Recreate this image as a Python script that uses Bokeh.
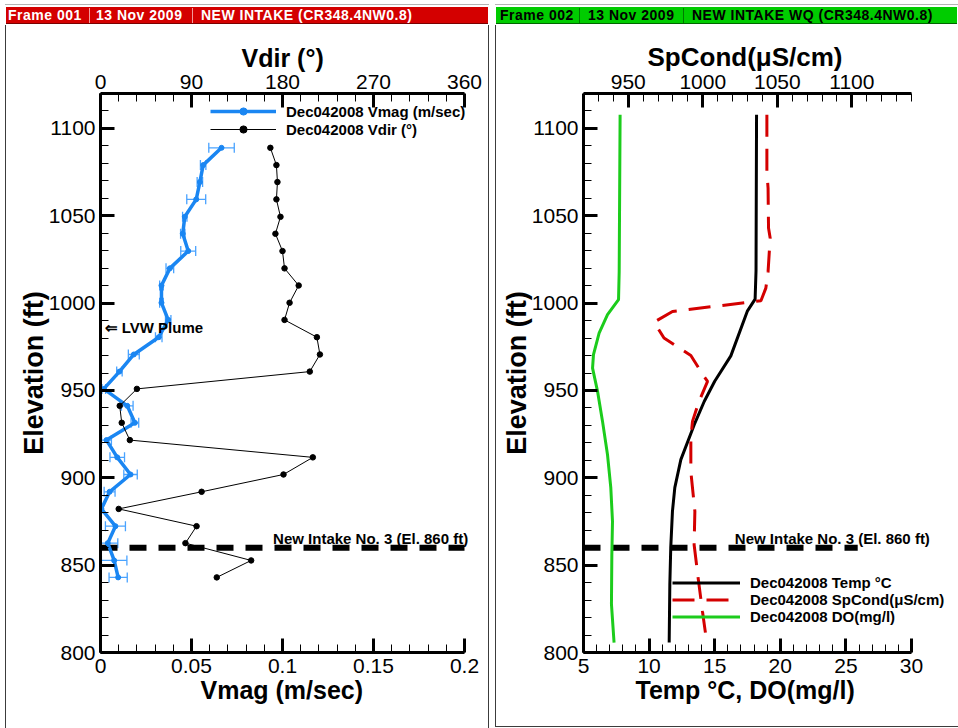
from bokeh.plotting import figure
from bokeh.models import (ColumnDataSource, LinearAxis, Range1d, SingleIntervalTicker, FixedTicker,
                          Whisker, TeeHead, Legend, LegendItem, Label, Div, Spacer, Title)
from bokeh.layouts import row, column
from bokeh.embed import file_html
from bokeh.resources import INLINE

# ---------------- data ----------------
# Frame 001 : velocity profile (3 m bins)
elev = [1088.9, 1079.0, 1069.3, 1059.4, 1049.4, 1039.7, 1029.8, 1019.9, 1010.1, 1000.2,
        990.4, 980.5, 970.6, 960.8, 950.9, 941.2, 931.5, 921.6, 911.7, 901.9,
        892.0, 882.2, 872.3, 862.6, 852.7, 843.0]
vdir = [168, 174, 175, 174, 178, 173, 180, 182, 196, 187,
        182, 214, 217, 207, 36, 19, 21, 29, 210, 181,
        100, 18, 95, 84, 149, 115]
vmag = [0.0665, 0.0564, 0.0546, 0.0526, 0.0463, 0.0452, 0.0482, 0.0381, 0.0335, 0.0335,
        0.0372, 0.0320, 0.0183, 0.0104, 0.0018, 0.0147, 0.0189, 0.0033, 0.0092, 0.0165,
        0.0050, 0.0005, 0.0082, 0.0040, 0.0075, 0.0097]
vmag_err = [0.0070, 0.0015, 0.0015, 0.0052, 0.0012, 0.0012, 0.0041, 0.0021, 0.0010, 0.0010,
            0.0015, 0.0018, 0.0030, 0.0015, 0.0010, 0.0032, 0.0021, 0.0027, 0.0040, 0.0037,
            0.0030, 0.0010, 0.0055, 0.0055, 0.0070, 0.0050]

# Frame 002 : water quality profile
temp_elev = [1107.8, 1018.5, 1002.3, 995.6, 969.8, 955.3, 943.7, 930.4, 910.4, 894.4,
             880.8, 860.0, 839.0, 805.7]
temp_val = [18.19, 18.15, 18.08, 17.50, 16.23, 15.00, 14.20, 13.44, 12.42, 11.96,
            11.78, 11.65, 11.58, 11.53]
do_elev = [1107.8, 1018.0, 1002.0, 993.4, 982.8, 970.5, 962.8, 949.5, 932.3, 913.2,
           894.4, 875.0, 856.0, 827.7, 805.7]
do_val = [7.79, 7.72, 7.67, 6.83, 6.19, 5.76, 5.69, 6.07, 6.45, 6.83,
          7.08, 7.21, 7.16, 7.13, 7.33]
sp_elev = [1107.8, 1075.4, 1065.8, 1043.0, 1037.3, 1018.0, 1008.6, 1001.4, 995.2, 989.1,
           980.0, 970.0, 958.0, 955.2, 943.8, 932.3, 922.7, 903.6, 880.8, 861.7,
           842.6, 823.5, 805.7]
sp_val = [1043.0, 1043.0, 1043.8, 1044.1, 1045.2, 1043.8, 1042.3, 1039.0, 979.7, 967.4,
          974.0, 992.0, 1000.9, 1003.2, 997.5, 993.1, 992.0, 992.0, 994.7, 994.2,
          996.9, 999.8, 1002.7]

intake_elev = 860
intake_left_x = [0, 0.2]
intake_right_x = [5, 25.9]
intake_text = "New Intake No. 3 (El. 860 ft)"
plume_text = "\u21d0 LVW Plume"
plume_pos = (0.0022, 986.3)
intake_label_left = (0.202, 865.3)
intake_label_right = (31.4, 865.3)

vmag_ticks = [0, 0.05, 0.1, 0.15, 0.2]
vmag_labels = ["0", "0.05", "0.1", "0.15", "0.2"]
vmag_minor = [i / 100 for i in range(0, 21)]
vdir_ticks = [0, 90, 180, 270, 360]
vdir_minor = [i * 18 for i in range(0, 21)]

header_left = ["Frame 001", "13 Nov 2009", "NEW INTAKE (CR348.4NW0.8)"]
header_right = ["Frame 002", "13 Nov 2009", "NEW INTAKE WQ (CR348.4NW0.8)"]

# axis extents (data) and the pixel length of the drawn axes
vmag_lim = (0, 0.2)
vdir_lim = (0, 360)
temp_lim = (5, 30)
sp_lim = (920, 1140)
elev_lim = (800, 1120)
AXIS_PX_LEFT = 364
AXIS_PX_RIGHT = 328

# ---------------- styling ----------------
FONT = "Liberation Sans"
BLUE = "#1a86f2"
BLUE_ERR = "#4aa3ff"
RED = "#d40000"
GREEN = "#1ccc1c"


def style_axis(ax, label_size="25px", label_standoff=3, standoff=5):
    ax.axis_line_width = 3
    ax.axis_line_color = "black"
    ax.major_tick_in = 14
    ax.major_tick_out = 0
    ax.major_tick_line_width = 3
    ax.minor_tick_in = 8
    ax.minor_tick_out = 0
    ax.minor_tick_line_width = 1
    ax.major_label_text_font = FONT
    ax.major_label_text_font_size = "21px"
    ax.major_label_text_color = "black"
    ax.major_label_standoff = standoff
    ax.axis_label_text_font = FONT
    ax.axis_label_text_font_style = "bold"
    ax.axis_label_text_font_size = label_size
    ax.axis_label_text_color = "black"
    ax.axis_label_standoff = label_standoff


def ext(lim, frame_px, axis_px):
    # range that keeps the axis length axis_px while the frame is frame_px wide
    return Range1d(lim[0], lim[0] + (lim[1] - lim[0]) * frame_px / axis_px)


def base_fig(w, h, xr, left, top, bottom):
    p = figure(width=w, height=h, x_range=xr, y_range=Range1d(*elev_lim),
               output_backend="svg", toolbar_location=None,
               min_border_left=left, min_border_right=0,
               min_border_top=top, min_border_bottom=bottom)
    p.outline_line_color = None
    p.xgrid.visible = False
    p.ygrid.visible = False
    p.background_fill_color = "white"
    p.border_fill_color = "white"
    p.yaxis.ticker = SingleIntervalTicker(interval=50, num_minor_ticks=5)
    p.yaxis.axis_label = "Elevation (ft)"
    style_axis(p.yaxis[0], label_size="27px", label_standoff=-3)
    return p


def axis_title(p, text, side, offset, size="25px", valign="bottom"):
    # axis caption, left-aligned at `offset` px from the frame's left edge
    p.add_layout(Title(text=text, align="left", offset=offset, standoff=0,
                       vertical_align=valign, text_font=FONT, text_font_size=size,
                       text_font_style="bold", text_color="black"), side)


def legend_style(lg, x, y, glyph_w, row_h):
    lg.location = (x, y)
    lg.border_line_color = None
    lg.background_fill_alpha = 0
    lg.padding = 0
    lg.margin = 0
    lg.spacing = 0
    lg.glyph_width = glyph_w
    lg.glyph_height = row_h
    lg.label_height = row_h
    lg.label_standoff = 10
    lg.label_text_font = FONT
    lg.label_text_font_size = "15px"
    lg.label_text_font_style = "bold"
    lg.label_text_color = "black"


def text_label(p, txt, xy, align, baseline, size="15px"):
    p.add_layout(Label(x=xy[0], y=xy[1], text=txt, text_font=FONT, text_font_size=size,
                       text_font_style="bold", text_align=align, text_baseline=baseline,
                       text_color="black"))


# ---------------- Frame 001 ----------------
W1, H1, L1 = 482, 703, 94
F1 = W1 - L1
p1 = base_fig(W1, H1, ext(vmag_lim, F1, AXIS_PX_LEFT), L1, 68, 76)
p1.extra_x_ranges = {"vdir": ext(vdir_lim, F1, AXIS_PX_LEFT)}
p1.xaxis.ticker = FixedTicker(ticks=vmag_ticks, minor_ticks=vmag_minor)
p1.xaxis.major_label_overrides = dict(zip(vmag_ticks, vmag_labels))
p1.xaxis.bounds = vmag_lim
style_axis(p1.xaxis[0], standoff=6)
top1 = LinearAxis(x_range_name="vdir",
                  ticker=FixedTicker(ticks=vdir_ticks, minor_ticks=vdir_minor))
top1.bounds = vdir_lim
style_axis(top1, standoff=5)
p1.add_layout(top1, "above")
axis_title(p1, "Vdir (\u00b0)", "above", 141)
axis_title(p1, "Vmag (m/sec)", "below", 100, valign="top")

src1 = ColumnDataSource(dict(elev=elev, vdir=vdir, vmag=vmag,
                             lo=[m - e for m, e in zip(vmag, vmag_err)],
                             hi=[m + e for m, e in zip(vmag, vmag_err)]))

p1.line(intake_left_x, [intake_elev] * len(intake_left_x), line_color="black",
        line_width=6, line_dash="17 12")
p1.add_layout(Whisker(source=src1, base="elev", lower="lo", upper="hi", dimension="width",
                      line_color=BLUE_ERR, line_width=1.3,
                      lower_head=TeeHead(size=10, line_color=BLUE_ERR, line_width=1.3),
                      upper_head=TeeHead(size=10, line_color=BLUE_ERR, line_width=1.3)))
bl = p1.line("vmag", "elev", source=src1, line_color=BLUE, line_width=3.5)
bp = p1.scatter("vmag", "elev", source=src1, size=5, color=BLUE)
kl = p1.line("vdir", "elev", source=src1, x_range_name="vdir", line_color="black", line_width=1)
kp = p1.scatter("vdir", "elev", source=src1, x_range_name="vdir", size=5.5, color="black")

lg1 = Legend(items=[LegendItem(label="Dec042008 Vmag (m/sec)", renderers=[bl, bp]),
                    LegendItem(label="Dec042008 Vdir (\u00b0)", renderers=[kl, kp])])
legend_style(lg1, 110, 514, 66, 18)
p1.add_layout(lg1)

text_label(p1, plume_text, plume_pos, "left", "middle")
text_label(p1, intake_text, intake_label_left, "right", "alphabetic")

# ---------------- Frame 002 ----------------
W2, H2, L2 = 462, 701, 87
F2 = W2 - L2
p2 = base_fig(W2, H2, ext(temp_lim, F2, AXIS_PX_RIGHT), L2, 68, 74)
p2.extra_x_ranges = {"sp": ext(sp_lim, F2, AXIS_PX_RIGHT)}
p2.xaxis.ticker = SingleIntervalTicker(interval=5, num_minor_ticks=5)
p2.xaxis.bounds = temp_lim
style_axis(p2.xaxis[0], standoff=6)
top2 = LinearAxis(x_range_name="sp",
                  ticker=SingleIntervalTicker(interval=50, num_minor_ticks=5))
top2.bounds = sp_lim
style_axis(top2, standoff=5)
p2.add_layout(top2, "above")
axis_title(p2, "SpCond(\u03bcS/cm)", "above", 64, size="26px")
axis_title(p2, "Temp \u00b0C, DO(mg/l)", "below", 52, valign="top")

p2.line(intake_right_x, [intake_elev] * len(intake_right_x), line_color="black",
        line_width=6, line_dash="17 12")
tl = p2.line(temp_val, temp_elev, line_color="black", line_width=3)
sl = p2.line(sp_val, sp_elev, x_range_name="sp", line_color=RED, line_width=3,
             line_dash="22 12")
dl = p2.line(do_val, do_elev, line_color=GREEN, line_width=3)

lg2 = Legend(items=[LegendItem(label="Dec042008 Temp \u00b0C", renderers=[tl]),
                    LegendItem(label="Dec042008 SpCond(\u03bcS/cm)", renderers=[sl]),
                    LegendItem(label="Dec042008 DO(mg/l)", renderers=[dl])])
legend_style(lg2, 89, 27, 68, 17)
p2.add_layout(lg2)

text_label(p2, intake_text, intake_label_right, "right", "alphabetic")


# ---------------- frame headers ----------------
def header(width, bg, edge, fg, sep, texts, xs, seps):
    f = "font-family:'Liberation Sans',Arial,sans-serif;"
    h = f'<div style="position:relative;width:{width}px;height:21px;overflow:hidden;margin:0;padding:0;{f}">'
    h += f'<div style="position:absolute;left:0;top:0;width:{width}px;height:1px;background:#b4b4b4;"></div>'
    h += (f'<div style="position:absolute;left:1px;top:3px;width:{width - 2}px;height:17px;'
          f'background:{bg};border-bottom:1px solid {edge};"></div>')
    for t, x in zip(texts, xs):
        h += (f'<div style="position:absolute;left:{x}px;top:3px;height:17px;line-height:17px;'
              f'font-size:14px;font-weight:bold;letter-spacing:0.5px;color:{fg};white-space:nowrap;">{t}</div>')
    for x in seps:
        h += f'<div style="position:absolute;left:{x}px;top:4px;width:1px;height:15px;background:{sep};"></div>'
    h += '</div>'
    return h


div_left = Div(width=484, height=21, margin=0,
               styles={"margin": "0", "padding": "0", "overflow": "hidden"},
               text=header(484, "#d40000", "#7a0000", "white", "#f29a9a",
                           header_left, [3, 91, 196], [84, 187]))
div_right = Div(width=463, height=21, margin=0,
                styles={"margin": "0", "padding": "0", "overflow": "hidden"},
                text=header(463, "#00cc00", "#006600", "black", "#007a00",
                            header_right, [5, 93, 197], [84, 188]))


def vline(h):
    return Spacer(width=1, height=h, margin=0, styles={"background-color": "#3c3c3c"})


left_panel = column(Spacer(width=484, height=4, margin=0), div_left,
                    row(vline(703), p1, vline(703)))
right_panel = column(Spacer(width=463, height=4, margin=0), div_right,
                     row(vline(701), p2),
                     Spacer(width=463, height=1, margin=0, styles={"background-color": "#3c3c3c"}),
                     Spacer(width=463, height=1, margin=0))
root = row(Spacer(width=5, height=728, margin=0), left_panel,
           Spacer(width=6, height=728, margin=0), right_panel)

open("out.html", "w").write(file_html(root, INLINE))
